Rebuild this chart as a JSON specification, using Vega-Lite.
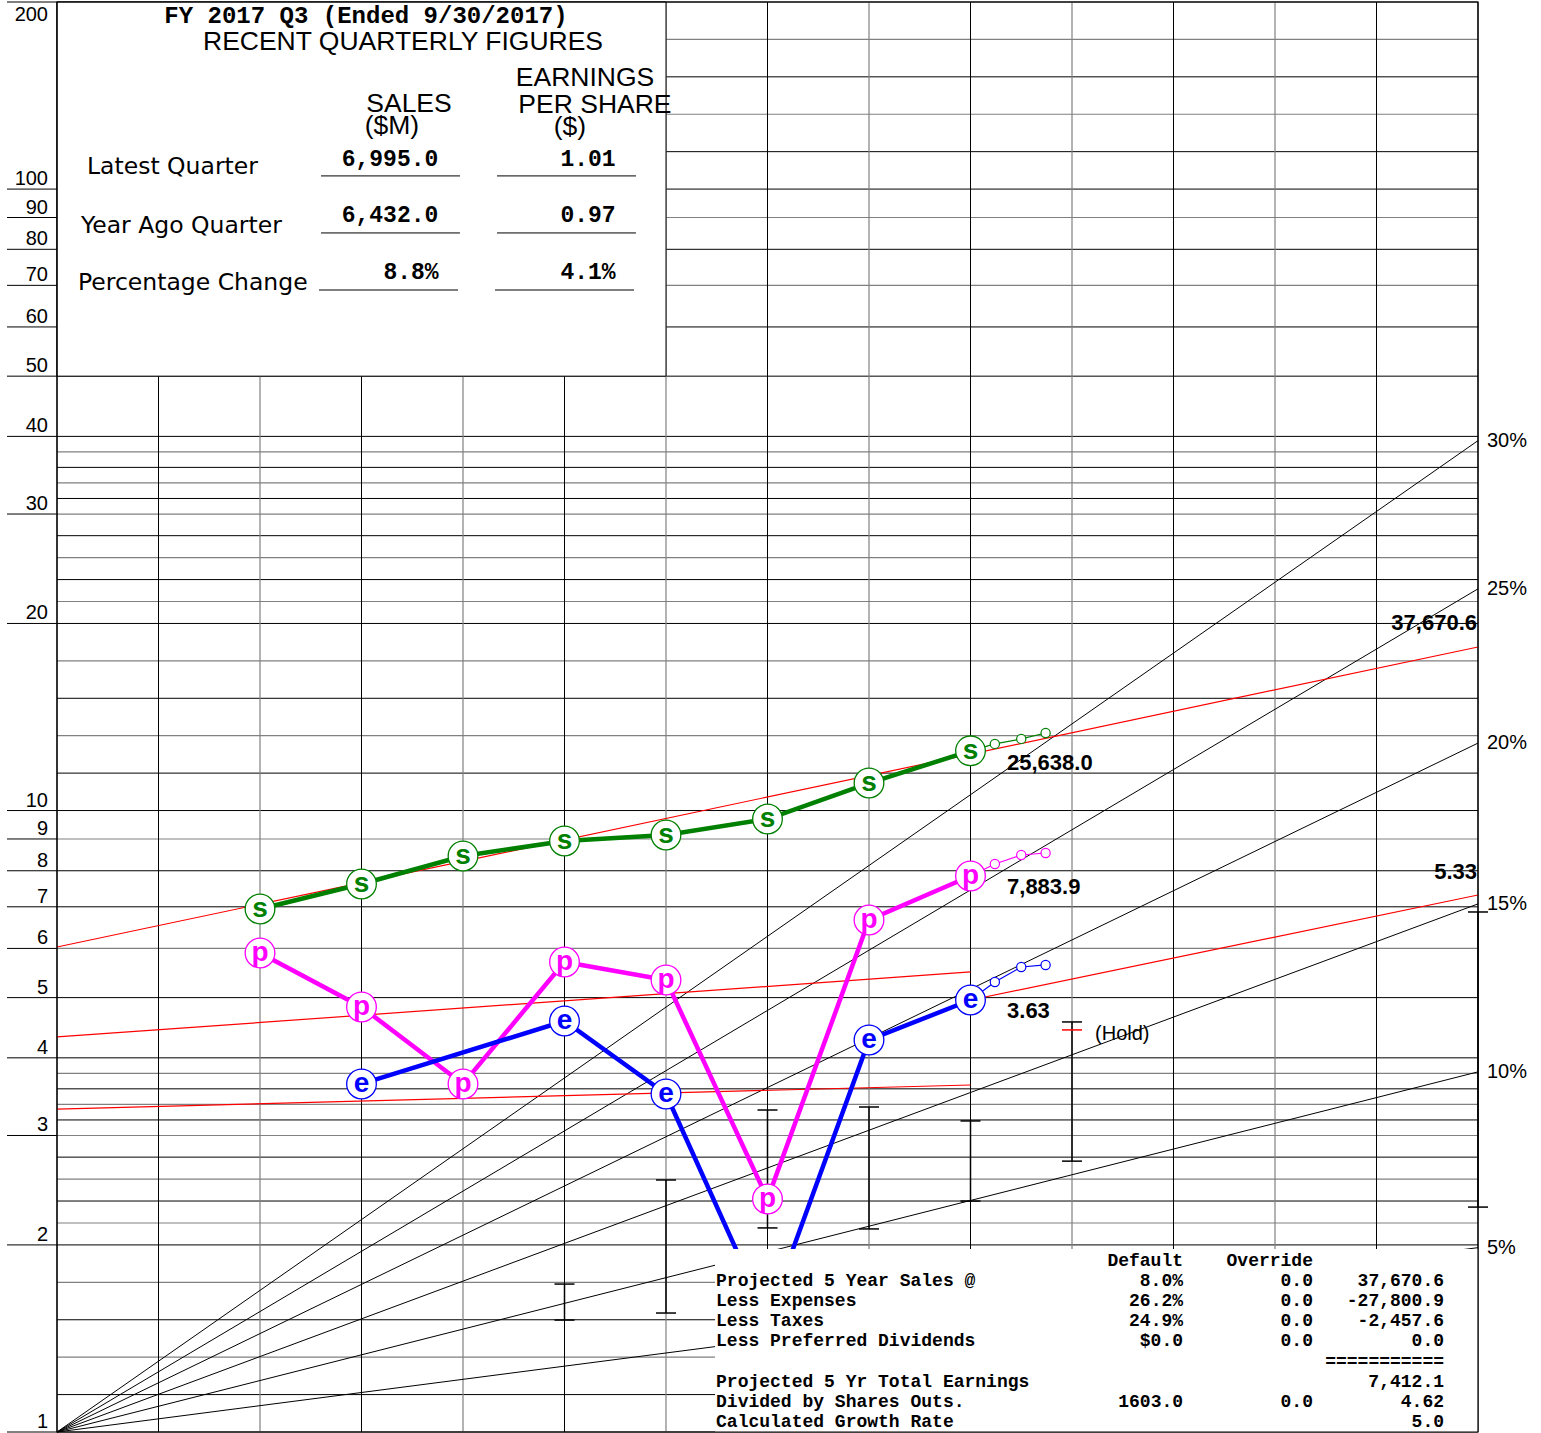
{
  "$schema": "https://vega.github.io/schema/vega-lite/v6.json",
  "width": 1421,
  "height": 1430,
  "autosize": {"type": "none"},
  "padding": {"left": 57, "top": 2, "right": 63, "bottom": 1},
  "background": "white",
  "config": {"view": {"stroke": null}},
  "datasets": {
    "hgrid": [
      {"col": 0, "col2": 14, "val": 1, "kind": "k"}, {"col": 0, "col2": 14, "val": 1.1487, "kind": "k"}, {"col": 0, "col2": 14, "val": 1.3195, "kind": "g"}, {"col": 0, "col2": 14, "val": 1.5157, "kind": "k"}, {"col": 0, "col2": 14, "val": 1.7411, "kind": "g"},
      {"col": 0, "col2": 14, "val": 2, "kind": "k"}, {"col": 0, "col2": 14, "val": 2.1694, "kind": "g"}, {"col": 0, "col2": 14, "val": 2.3532, "kind": "k"}, {"col": 0, "col2": 14, "val": 2.5525, "kind": "g"}, {"col": 0, "col2": 14, "val": 2.7688, "kind": "k"},
      {"col": 0, "col2": 14, "val": 3, "kind": "g"}, {"col": 0, "col2": 14, "val": 3.1779, "kind": "k"}, {"col": 0, "col2": 14, "val": 3.3663, "kind": "g"}, {"col": 0, "col2": 14, "val": 3.566, "kind": "k"}, {"col": 0, "col2": 14, "val": 3.7775, "kind": "g"},
      {"col": 0, "col2": 14, "val": 4, "kind": "k"}, {"col": 0, "col2": 14, "val": 5, "kind": "k"}, {"col": 0, "col2": 14, "val": 6, "kind": "g"}, {"col": 0, "col2": 14, "val": 7, "kind": "k"}, {"col": 0, "col2": 14, "val": 8, "kind": "k"}, {"col": 0, "col2": 14, "val": 9, "kind": "g"},
      {"col": 0, "col2": 14, "val": 10, "kind": "k"}, {"col": 0, "col2": 14, "val": 11.487, "kind": "k"}, {"col": 0, "col2": 14, "val": 13.195, "kind": "g"}, {"col": 0, "col2": 14, "val": 15.157, "kind": "k"}, {"col": 0, "col2": 14, "val": 17.411, "kind": "g"},
      {"col": 0, "col2": 14, "val": 20, "kind": "k"}, {"col": 0, "col2": 14, "val": 21.694, "kind": "g"}, {"col": 0, "col2": 14, "val": 23.532, "kind": "k"}, {"col": 0, "col2": 14, "val": 25.525, "kind": "g"}, {"col": 0, "col2": 14, "val": 27.688, "kind": "k"},
      {"col": 0, "col2": 14, "val": 30, "kind": "g"}, {"col": 0, "col2": 14, "val": 31.779, "kind": "k"}, {"col": 0, "col2": 14, "val": 33.663, "kind": "g"}, {"col": 0, "col2": 14, "val": 35.66, "kind": "k"}, {"col": 0, "col2": 14, "val": 37.775, "kind": "g"},
      {"col": 0, "col2": 14, "val": 40, "kind": "k"}, {"col": 0, "col2": 14, "val": 50, "kind": "k"}, {"col": 0, "col2": 14, "val": 60, "kind": "k"}, {"col": 0, "col2": 14, "val": 70, "kind": "g"}, {"col": 0, "col2": 14, "val": 80, "kind": "k"}, {"col": 0, "col2": 14, "val": 90, "kind": "g"},
      {"col": 0, "col2": 14, "val": 100, "kind": "k"}, {"col": 0, "col2": 14, "val": 114.87, "kind": "k"}, {"col": 0, "col2": 14, "val": 131.95, "kind": "g"}, {"col": 0, "col2": 14, "val": 151.57, "kind": "k"}, {"col": 0, "col2": 14, "val": 174.11, "kind": "g"}, {"col": 0, "col2": 14, "val": 200, "kind": "k"}
    ],
    "vgrid": [
      {"col": 0, "val": 1, "val2": 200, "kind": "k"}, {"col": 1, "val": 1, "val2": 200, "kind": "k"}, {"col": 2, "val": 1, "val2": 200, "kind": "g"},
      {"col": 3, "val": 1, "val2": 200, "kind": "k"}, {"col": 4, "val": 1, "val2": 200, "kind": "g"}, {"col": 5, "val": 1, "val2": 200, "kind": "k"},
      {"col": 6, "val": 1, "val2": 200, "kind": "g"}, {"col": 7, "val": 1, "val2": 200, "kind": "k"}, {"col": 8, "val": 1, "val2": 200, "kind": "g"},
      {"col": 9, "val": 1, "val2": 200, "kind": "k"}, {"col": 10, "val": 1, "val2": 200, "kind": "g"}, {"col": 11, "val": 1, "val2": 200, "kind": "k"},
      {"col": 12, "val": 1, "val2": 200, "kind": "g"}, {"col": 13, "val": 1, "val2": 200, "kind": "k"}, {"col": 14, "val": 1, "val2": 200, "kind": "k"}
    ],
    "yticks": [
      {"col": -0.4926, "col2": 0, "val": 1, "text": "1"}, {"col": -0.4926, "col2": 0, "val": 2, "text": "2"}, {"col": -0.4926, "col2": 0, "val": 3, "text": "3"},
      {"col": -0.4926, "col2": 0, "val": 4, "text": "4"}, {"col": -0.4926, "col2": 0, "val": 5, "text": "5"}, {"col": -0.4926, "col2": 0, "val": 6, "text": "6"},
      {"col": -0.4926, "col2": 0, "val": 7, "text": "7"}, {"col": -0.4926, "col2": 0, "val": 8, "text": "8"}, {"col": -0.4926, "col2": 0, "val": 9, "text": "9"},
      {"col": -0.4926, "col2": 0, "val": 10, "text": "10"}, {"col": -0.4926, "col2": 0, "val": 20, "text": "20"}, {"col": -0.4926, "col2": 0, "val": 30, "text": "30"},
      {"col": -0.4926, "col2": 0, "val": 40, "text": "40"}, {"col": -0.4926, "col2": 0, "val": 50, "text": "50"}, {"col": -0.4926, "col2": 0, "val": 60, "text": "60"},
      {"col": -0.4926, "col2": 0, "val": 70, "text": "70"}, {"col": -0.4926, "col2": 0, "val": 80, "text": "80"}, {"col": -0.4926, "col2": 0, "val": 90, "text": "90"},
      {"col": -0.4926, "col2": 0, "val": 100, "text": "100"}, {"col": -0.4926, "col2": 0, "val": 200, "text": "200"}
    ],
    "fans": [
      {"r": "5%", "col": 0, "val": 1}, {"r": "5%", "col": 14, "val": 1.9799},
      {"r": "10%", "col": 0, "val": 1}, {"r": "10%", "col": 14, "val": 3.7975},
      {"r": "15%", "col": 0, "val": 1}, {"r": "15%", "col": 14, "val": 7.0757},
      {"r": "20%", "col": 0, "val": 1}, {"r": "20%", "col": 14, "val": 12.839},
      {"r": "25%", "col": 0, "val": 1}, {"r": "25%", "col": 14, "val": 22.737},
      {"r": "30%", "col": 0, "val": 1}, {"r": "30%", "col": 14, "val": 39.374}
    ],
    "pts": [
      {"ser": "s", "col": 2, "val": 6.944}, {"ser": "s", "col": 3, "val": 7.617}, {"ser": "s", "col": 4, "val": 8.45}, {"ser": "s", "col": 5, "val": 8.932},
      {"ser": "s", "col": 6, "val": 9.132}, {"ser": "s", "col": 7, "val": 9.69}, {"ser": "s", "col": 8, "val": 11.073}, {"ser": "s", "col": 9, "val": 12.475},
      {"ser": "p", "col": 2, "val": 5.899}, {"ser": "p", "col": 3, "val": 4.83}, {"ser": "p", "col": 4, "val": 3.631}, {"ser": "p", "col": 5, "val": 5.705},
      {"ser": "p", "col": 6, "val": 5.338}, {"ser": "p", "col": 7, "val": 2.371}, {"ser": "p", "col": 8, "val": 6.666}, {"ser": "p", "col": 9, "val": 7.846},
      {"ser": "e", "col": 3, "val": 3.631}, {"ser": "e", "col": 5, "val": 4.585}, {"ser": "e", "col": 6, "val": 3.499},
      {"ser": "e", "col": 7, "val": 1.52}, {"ser": "e", "col": 8, "val": 4.274}, {"ser": "e", "col": 9, "val": 4.956}
    ],
    "proj": [
      {"ser": "s", "col": 9, "val": 12.475}, {"ser": "s", "col": 9.24, "val": 12.8}, {"ser": "s", "col": 9.5, "val": 13.04}, {"ser": "s", "col": 9.74, "val": 13.33},
      {"ser": "p", "col": 9, "val": 7.846}, {"ser": "p", "col": 9.24, "val": 8.203}, {"ser": "p", "col": 9.5, "val": 8.481}, {"ser": "p", "col": 9.74, "val": 8.545},
      {"ser": "e", "col": 9, "val": 4.956}, {"ser": "e", "col": 9.24, "val": 5.298}, {"ser": "e", "col": 9.5, "val": 5.601}, {"ser": "e", "col": 9.74, "val": 5.643}
    ],
    "trend": [
      {"id": "A", "col": 0, "val": 6.031}, {"id": "A", "col": 14, "val": 18.33},
      {"id": "B", "col": 0, "val": 4.322}, {"id": "B", "col": 9, "val": 5.499},
      {"id": "C", "col": 0, "val": 3.309}, {"id": "C", "col": 9, "val": 3.617},
      {"id": "D", "col": 9, "val": 4.956}, {"id": "D", "col": 14, "val": 7.313}
    ],
    "bars": [
      {"col": 5, "val": 1.73, "val2": 1.514}, {"col": 6, "val": 2.544, "val2": 1.554}, {"col": 7, "val": 3.297, "val2": 2.13},
      {"col": 8, "val": 3.334, "val2": 2.122}, {"col": 9, "val": 3.166, "val2": 2.353}, {"col": 10, "val": 4.569, "val2": 2.728},
      {"col": 14, "val": 6.867, "val2": 2.301}
    ],
    "tblLeft": [
      {"col": 6.493, "val": 1.75, "text": "Projected 5 Year Sales @"},
      {"col": 6.493, "val": 1.624, "text": "Less Expenses"},
      {"col": 6.493, "val": 1.509, "text": "Less Taxes"},
      {"col": 6.493, "val": 1.401, "text": "Less Preferred Dividends"},
      {"col": 6.493, "val": 1.204, "text": "Projected 5 Yr Total Earnings"},
      {"col": 6.493, "val": 1.117, "text": "Divided by Shares Outs."},
      {"col": 6.493, "val": 1.038, "text": "Calculated Growth Rate"}
    ],
    "tblRight": [
      {"col": 11.094, "val": 1.885, "text": "Default"}, {"col": 12.374, "val": 1.885, "text": "Override"},
      {"col": 11.094, "val": 1.75, "text": "8.0%"}, {"col": 12.374, "val": 1.75, "text": "0.0"}, {"col": 13.665, "val": 1.75, "text": "37,670.6"},
      {"col": 11.094, "val": 1.624, "text": "26.2%"}, {"col": 12.374, "val": 1.624, "text": "0.0"}, {"col": 13.665, "val": 1.624, "text": "-27,800.9"},
      {"col": 11.094, "val": 1.509, "text": "24.9%"}, {"col": 12.374, "val": 1.509, "text": "0.0"}, {"col": 13.665, "val": 1.509, "text": "-2,457.6"},
      {"col": 11.094, "val": 1.401, "text": "$0.0"}, {"col": 12.374, "val": 1.401, "text": "0.0"}, {"col": 13.665, "val": 1.401, "text": "0.0"},
      {"col": 13.665, "val": 1.296, "text": "==========="},
      {"col": 13.665, "val": 1.204, "text": "7,412.1"},
      {"col": 11.094, "val": 1.117, "text": "1603.0"}, {"col": 12.374, "val": 1.117, "text": "0.0"}, {"col": 13.665, "val": 1.117, "text": "4.62"},
      {"col": 13.665, "val": 1.038, "text": "5.0"}
    ]
  },
  "encoding": {
    "x": {"field": "col", "type": "quantitative", "scale": {"domain": [0, 14], "nice": false, "zero": false}, "axis": null},
    "y": {"field": "val", "type": "quantitative", "scale": {"type": "log", "domain": [1, 200], "nice": false}, "axis": null}
  },
  "layer": [
    {
      "data": {"name": "hgrid"}, "transform": [{"filter": "datum.kind == 'g'"}],
      "mark": {"type": "rule", "color": "#808080", "strokeWidth": 1.2},
      "encoding": {"x2": {"field": "col2"}}
    },
    {
      "data": {"name": "hgrid"}, "transform": [{"filter": "datum.kind == 'k'"}],
      "mark": {"type": "rule", "color": "#000000", "strokeWidth": 1},
      "encoding": {"x2": {"field": "col2"}}
    },
    {
      "data": {"name": "vgrid"}, "transform": [{"filter": "datum.kind == 'g'"}],
      "mark": {"type": "rule", "color": "#808080", "strokeWidth": 1.2},
      "encoding": {"y2": {"field": "val2"}}
    },
    {
      "data": {"name": "vgrid"}, "transform": [{"filter": "datum.kind == 'k'"}],
      "mark": {"type": "rule", "color": "#000000", "strokeWidth": 1},
      "encoding": {"y2": {"field": "val2"}}
    },
    {
      "data": {"name": "yticks"},
      "mark": {"type": "rule", "color": "#000000", "strokeWidth": 1},
      "encoding": {"x2": {"field": "col2"}}
    },
    {
      "data": {"name": "yticks"}, "transform": [{"filter": "datum.val < 150"}],
      "mark": {"type": "text", "font": "Liberation Sans", "fontSize": 20, "align": "right", "baseline": "bottom", "dx": -9, "color": "#000000"},
      "encoding": {"x": {"field": "col2", "type": "quantitative", "axis": null}, "text": {"field": "text"}}
    },
    {
      "data": {"name": "yticks"}, "transform": [{"filter": "datum.val > 150"}],
      "mark": {"type": "text", "font": "Liberation Sans", "fontSize": 20, "align": "right", "baseline": "top", "dx": -9, "dy": 3, "color": "#000000"},
      "encoding": {"x": {"field": "col2", "type": "quantitative", "axis": null}, "text": {"field": "text"}}
    },
    {
      "data": {"name": "fans"},
      "mark": {"type": "line", "color": "#000000", "strokeWidth": 1},
      "encoding": {"detail": {"field": "r"}}
    },
    {
      "data": {"values": [{"col": 0, "col2": 6, "val": 50, "val2": 200}]},
      "mark": {"type": "rect", "fill": "white", "stroke": "#000000", "strokeWidth": 1},
      "encoding": {"x2": {"field": "col2"}, "y2": {"field": "val2"}}
    },
    {
      "data": {"values": [
        {"col": 2.601, "col2": 3.97, "val": 105.0}, {"col": 4.335, "col2": 5.704, "val": 105.0},
        {"col": 2.601, "col2": 3.97, "val": 85.0}, {"col": 4.335, "col2": 5.704, "val": 85.0},
        {"col": 2.581, "col2": 3.951, "val": 68.8}, {"col": 4.315, "col2": 5.685, "val": 68.8}
      ]},
      "mark": {"type": "rule", "color": "#000000", "strokeWidth": 1},
      "encoding": {"x2": {"field": "col2"}}
    },
    {
      "data": {"values": [{"col": 3.044, "val": 189.9, "text": "FY 2017 Q3 (Ended 9/30/2017)"}]},
      "mark": {"type": "text", "font": "Liberation Mono", "fontWeight": "bold", "fontSize": 24, "align": "center", "baseline": "middle", "color": "#000000"},
      "encoding": {"text": {"field": "text"}}
    },
    {
      "data": {"values": [
        {"col": 3.409, "val": 172.5, "text": "RECENT QUARTERLY FIGURES"},
        {"col": 5.202, "val": 150.9, "text": "EARNINGS"},
        {"col": 3.468, "val": 137.1, "text": "SALES"},
        {"col": 5.3, "val": 136.6, "text": "PER SHARE"},
        {"col": 3.3, "val": 126.3, "text": "($M)"},
        {"col": 5.054, "val": 125.9, "text": "($)"}
      ]},
      "mark": {"type": "text", "font": "Liberation Sans", "fontSize": 26.5, "align": "center", "baseline": "middle", "color": "#000000"},
      "encoding": {"text": {"field": "text"}}
    },
    {
      "data": {"values": [
        {"col": 0.2956, "val": 108.5, "text": "Latest Quarter"},
        {"col": 0.2365, "val": 87.23, "text": "Year Ago Quarter"},
        {"col": 0.2069, "val": 70.6, "text": "Percentage Change"}
      ]},
      "mark": {"type": "text", "font": "DejaVu Sans", "fontSize": 23.5, "align": "left", "baseline": "middle", "color": "#000000"},
      "encoding": {"text": {"field": "text"}}
    },
    {
      "data": {"values": [
        {"col": 3.281, "val": 111.8, "text": "6,995.0"}, {"col": 5.232, "val": 111.8, "text": "1.01"},
        {"col": 3.281, "val": 90.85, "text": "6,432.0"}, {"col": 5.232, "val": 90.85, "text": "0.97"},
        {"col": 3.488, "val": 73.55, "text": "8.8%"}, {"col": 5.232, "val": 73.55, "text": "4.1%"}
      ]},
      "mark": {"type": "text", "font": "Liberation Mono", "fontWeight": "bold", "fontSize": 23, "align": "center", "baseline": "middle", "color": "#000000"},
      "encoding": {"text": {"field": "text"}}
    },
    {
      "data": {"name": "trend"},
      "mark": {"type": "line", "color": "#ff0000", "strokeWidth": 1.2},
      "encoding": {"detail": {"field": "id"}}
    },
    {
      "data": {"name": "bars"},
      "mark": {"type": "rule", "color": "#000000", "strokeWidth": 1.5},
      "encoding": {"y2": {"field": "val2"}}
    },
    {
      "data": {"name": "bars"},
      "transform": [{"fold": ["val", "val2"], "as": ["end", "v"]}],
      "mark": {"type": "point", "shape": "stroke", "size": 400, "filled": false, "color": "#000000", "strokeWidth": 1.5, "opacity": 1},
      "encoding": {"y": {"field": "v", "type": "quantitative", "axis": null}}
    },
    {
      "data": {"values": [{"col": 10, "val": 4.436}]},
      "mark": {"type": "point", "shape": "stroke", "size": 400, "filled": false, "color": "#ff0000", "strokeWidth": 1.5, "opacity": 1}
    },
    {
      "data": {"name": "proj"},
      "mark": {"type": "line", "strokeWidth": 1.2},
      "encoding": {"color": {"field": "ser", "type": "nominal", "scale": {"domain": ["s", "p", "e"], "range": ["#008000", "#ff00ff", "#0000ff"]}, "legend": null}}
    },
    {
      "data": {"name": "proj"}, "transform": [{"filter": "datum.col > 9"}],
      "mark": {"type": "point", "shape": "circle", "size": 85, "fill": "white", "filled": true, "strokeWidth": 1.2, "opacity": 1},
      "encoding": {"stroke": {"field": "ser", "type": "nominal", "scale": {"domain": ["s", "p", "e"], "range": ["#008000", "#ff00ff", "#0000ff"]}, "legend": null}}
    },
    {
      "data": {"name": "pts"},
      "mark": {"type": "line", "strokeWidth": 4.5},
      "encoding": {"color": {"field": "ser", "type": "nominal", "scale": {"domain": ["s", "p", "e"], "range": ["#008000", "#ff00ff", "#0000ff"]}, "legend": null}}
    },
    {
      "data": {"name": "pts"},
      "mark": {"type": "point", "shape": "circle", "size": 880, "fill": "white", "filled": true, "strokeWidth": 1.3, "opacity": 1},
      "encoding": {"stroke": {"field": "ser", "type": "nominal", "scale": {"domain": ["s", "p", "e"], "range": ["#008000", "#ff00ff", "#0000ff"]}, "legend": null}}
    },
    {
      "data": {"name": "pts"},
      "mark": {"type": "text", "font": "Liberation Sans", "fontWeight": "bold", "fontSize": 28, "align": "center", "baseline": "middle"},
      "encoding": {
        "text": {"field": "ser"},
        "color": {"field": "ser", "type": "nominal", "scale": {"domain": ["s", "p", "e"], "range": ["#008000", "#ff00ff", "#0000ff"]}, "legend": null}
      }
    },
    {
      "data": {"values": [{"col": 6.483, "col2": 14, "val": 1, "val2": 1.97}]},
      "mark": {"type": "rect", "fill": "white", "strokeWidth": 0},
      "encoding": {"x2": {"field": "col2"}, "y2": {"field": "val2"}}
    },
    {
      "data": {"name": "tblLeft"},
      "mark": {"type": "text", "font": "Liberation Mono", "fontWeight": "bold", "fontSize": 18, "align": "left", "baseline": "middle", "color": "#000000"},
      "encoding": {"text": {"field": "text"}}
    },
    {
      "data": {"name": "tblRight"},
      "mark": {"type": "text", "font": "Liberation Mono", "fontWeight": "bold", "fontSize": 18, "align": "right", "baseline": "middle", "color": "#000000"},
      "encoding": {"text": {"field": "text"}}
    },
    {
      "data": {"values": [{"col": 0, "col2": 14, "val": 1, "val2": 200}]},
      "mark": {"type": "rect", "fill": "transparent", "stroke": "#000000", "strokeWidth": 1.2},
      "encoding": {"x2": {"field": "col2"}, "y2": {"field": "val2"}}
    },
    {
      "data": {"name": "fans"}, "transform": [{"filter": "datum.col == 14"}],
      "mark": {"type": "text", "font": "Liberation Sans", "fontSize": 20, "align": "left", "baseline": "middle", "dx": 9, "color": "#000000"},
      "encoding": {"text": {"field": "r"}}
    },
    {
      "data": {"values": [
        {"col": 9.36, "val": 11.93, "text": "25,638.0"},
        {"col": 9.36, "val": 7.534, "text": "7,883.9"},
        {"col": 9.36, "val": 4.758, "text": "3.63"}
      ]},
      "mark": {"type": "text", "font": "Liberation Sans", "fontWeight": "bold", "fontSize": 22, "align": "left", "baseline": "middle", "color": "#000000"},
      "encoding": {"text": {"field": "text"}}
    },
    {
      "data": {"values": [
        {"col": 14, "val": 20.04, "text": "37,670.6"},
        {"col": 14, "val": 7.96, "text": "5.33"}
      ]},
      "mark": {"type": "text", "font": "Liberation Sans", "fontWeight": "bold", "fontSize": 22, "align": "right", "baseline": "middle", "dx": -1, "color": "#000000"},
      "encoding": {"text": {"field": "text"}}
    },
    {
      "data": {"values": [{"col": 10.227, "val": 4.37, "text": "(Hold)"}]},
      "mark": {"type": "text", "font": "Liberation Sans", "fontSize": 20, "align": "left", "baseline": "middle", "color": "#000000"},
      "encoding": {"text": {"field": "text"}}
    }
  ]
}
